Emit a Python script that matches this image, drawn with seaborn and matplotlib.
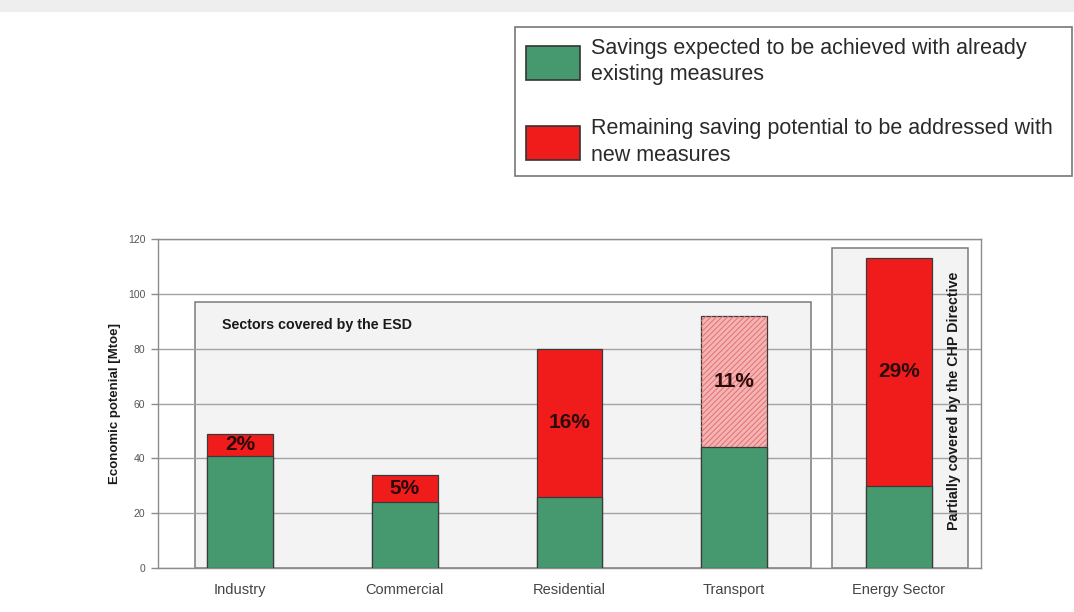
import matplotlib
matplotlib.use("Agg")
import matplotlib.pyplot as plt
from matplotlib.patches import Rectangle, Patch
import seaborn as sns
import pandas as pd

# --- data -------------------------------------------------------------
categories = ["Industry", "Commercial", "Residential", "Transport", "Energy Sector"]
existing_savings = [41, 24, 26, 44, 30]          # Mtoe, already existing measures
total_potential = [49, 34, 80, 92, 113]          # Mtoe, full economic potential
share_labels = ["2%", "5%", "16%", "11%", "29%"]
y_ticks = [0, 20, 40, 60, 80, 100, 120]
legend_labels = [
    "Savings expected to be achieved with already\nexisting measures",
    "Remaining saving potential to be addressed with\nnew measures",
]

GREEN = "#46996f"
RED = "#f01c1c"
PINK = "#f5b3b3"
EDGE = "#3a3a3a"

sns.set_theme(style="white")
plt.rcParams["font.family"] = ["Liberation Sans", "DejaVu Sans"]
plt.rcParams["hatch.linewidth"] = 0.7

df = pd.DataFrame({"sector": categories,
                   "existing": existing_savings,
                   "total": total_potential})

fig = plt.figure(figsize=(10.74, 6.12), dpi=100)
fig.patch.set_facecolor("white")

# soft grey band along the top edge of the page
fig.patches.append(Rectangle((0, 1 - 12 / 612), 1, 12 / 612, transform=fig.transFigure,
                             facecolor="#eeeeee", edgecolor="none", zorder=0))

ax = fig.add_axes([158 / 1074, 1 - 568 / 612, 823 / 1074, 329 / 612])
ax.set_facecolor("white")

# stacked bars: full potential first, existing-measure savings over it
sns.barplot(data=df, x="sector", y="total", order=categories, color=RED,
            width=0.4, edgecolor=EDGE, linewidth=0.9, saturation=1, ax=ax, zorder=3)
n_total = len(ax.patches)
sns.barplot(data=df, x="sector", y="existing", order=categories, color=GREEN,
            width=0.4, edgecolor=EDGE, linewidth=0.9, saturation=1, ax=ax, zorder=4)

total_bars = ax.patches[:n_total]
# transport remainder is shown hatched in a lighter tone
tp = total_bars[categories.index("Transport")]
tp.set_facecolor(PINK)
ax.add_patch(Rectangle(tp.get_xy(), tp.get_width(), tp.get_height(), fill=False,
                       hatch="//////", edgecolor="#e27070", linewidth=0, zorder=3.5))

# percentage labels centred in the remaining-potential segment
for i, (lo, hi, lab) in enumerate(zip(existing_savings, total_potential, share_labels)):
    ax.text(i, (lo + hi) / 2, lab, ha="center", va="center", fontsize=15,
            fontweight="bold", color="#2b0b0b", zorder=6)

# grouping boxes
ax.add_patch(Rectangle((-0.273, 0), 3.74, 97, facecolor="#f3f3f3",
                       edgecolor="#7a7a7a", linewidth=1.1, zorder=0.3))
ax.add_patch(Rectangle((3.594, 0), 0.824, 116.7, facecolor="#f3f3f3",
                       edgecolor="#7a7a7a", linewidth=1.1, zorder=0.3))
ax.text(-0.11, 88.6, "Sectors covered by the ESD", ha="left", va="center",
        fontsize=10.3, fontweight="bold", color="#1a1a1a", zorder=6)
ax.text(4.339, 61, "Partially covered by the CHP Directive", ha="center", va="center",
        rotation=90, fontsize=10.3, fontweight="bold", color="#1a1a1a", zorder=6)

# axes styling
ax.set_xlim(-0.5, 4.5)
ax.set_ylim(0, 120)
ax.set_yticks(y_ticks)
ax.set_yticklabels([str(t) for t in y_ticks])
ax.yaxis.grid(True, color="#a3a3a3", linewidth=1.0, zorder=0.5)
ax.set_axisbelow(True)
for s in ax.spines.values():
    s.set_color("#8c8c8c")
    s.set_linewidth(1.0)
ax.tick_params(axis="y", length=5, width=1, color="#8c8c8c", labelsize=7.5,
               labelcolor="#555555", pad=4, left=True)
ax.tick_params(axis="x", length=0, labelsize=10.5, labelcolor="#444444", pad=11)
ax.set_xlabel("")
ax.set_ylabel("Economic potenial [Mtoe]", fontsize=9.5, fontweight="bold",
              color="#1a1a1a", labelpad=5)

# legend
handles = [Patch(facecolor=GREEN, edgecolor="#333333", linewidth=1.2),
           Patch(facecolor=RED, edgecolor="#333333", linewidth=1.2)]
leg = fig.legend(handles, legend_labels, loc="upper left",
                 bbox_to_anchor=(515 / 1074, 1 - 169 / 612, 557 / 1074, 142 / 612),
                 mode="expand", fontsize=15.5,
                 frameon=True, fancybox=False, edgecolor="#555555",
                 handlelength=2.52, handleheight=2.06, handletextpad=0.5,
                 labelspacing=1.55, borderpad=0.5, borderaxespad=0)
leg.get_frame().set_linewidth(1.2)
for t in leg.get_texts():
    t.set_color("#2a2a2a")
    t.set_linespacing(1.33)

fig.savefig("out.png", dpi=100)
